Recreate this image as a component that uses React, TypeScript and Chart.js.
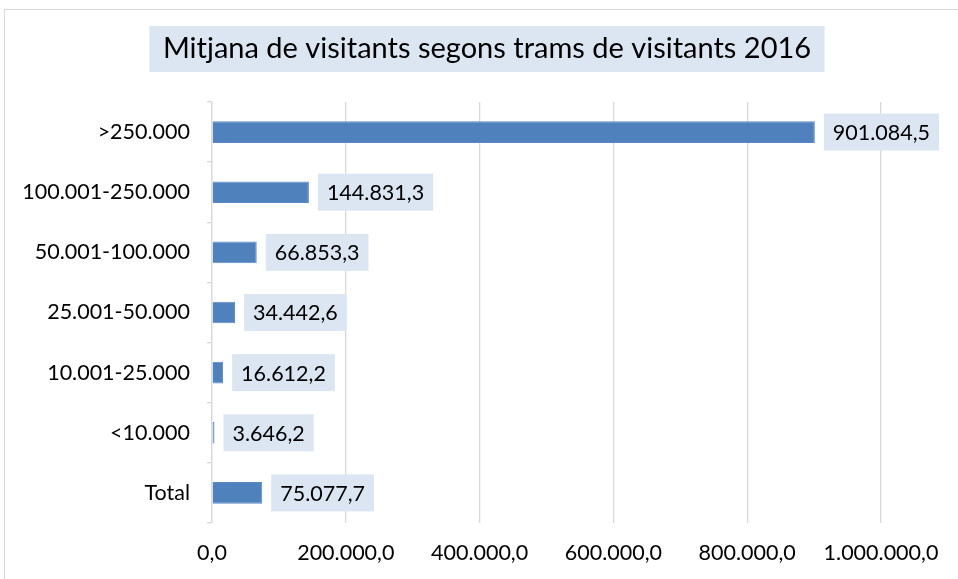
import { useEffect, useRef } from 'react';
import { Chart, registerables } from 'chart.js';

Chart.register(...registerables);

const categories = ['>250.000', '100.001-250.000', '50.001-100.000', '25.001-50.000', '10.001-25.000', '<10.000', 'Total'];
const values = [901084.5, 144831.3, 66853.3, 34442.6, 16612.2, 3646.2, 75077.7];
const xTickValues = [0, 200000, 400000, 600000, 800000, 1000000];
const titleText = 'Mitjana de visitants segons trams de visitants 2016';

const FONT = 'Lato';
const TICK_SIZE = 21.5;
const TITLE_SIZE = 29;
const BOX_BG = '#dce6f2';
const GRID = '#d9d9d9';
const BAR = '#4f81bd';

function fmt(v: number): string {
  const fixed = v.toFixed(1);
  const [i, d] = fixed.split('.');
  return i.replace(/\B(?=(\d{3})+(?!\d))/g, '.') + ',' + d;
}

const decorPlugin = {
  id: 'decor',
  beforeDraw(chart: any) {
    const ctx = chart.ctx;
    ctx.save();
    ctx.fillStyle = '#ffffff';
    ctx.fillRect(0, 0, chart.width, chart.height);
    ctx.strokeStyle = GRID;
    ctx.lineWidth = 1;
    ctx.strokeRect(4.5, 9.5, chart.width + 20, chart.height + 20);
    // title
    ctx.font = `${TITLE_SIZE}px ${FONT}`;
    const tw = ctx.measureText(titleText).width;
    const cx = 487;
    const bw = tw + 27;
    ctx.fillStyle = BOX_BG;
    ctx.fillRect(cx - bw / 2, 26, bw, 46);
    ctx.fillStyle = '#000000';
    ctx.textAlign = 'center';
    ctx.textBaseline = 'middle';
    ctx.fillText(titleText, cx, 49);
    ctx.restore();
  },
  afterDatasetsDraw(chart: any) {
    const ctx = chart.ctx;
    const meta = chart.getDatasetMeta(0);
    ctx.save();
    ctx.font = `${TICK_SIZE}px ${FONT}`;
    ctx.textBaseline = 'middle';
    ctx.textAlign = 'left';
    meta.data.forEach((bar: any, idx: number) => {
      const label = fmt(values[idx]);
      const w = ctx.measureText(label).width;
      const x0 = bar.x + 9;
      const h = 37;
      ctx.fillStyle = BOX_BG;
      ctx.fillRect(x0, bar.y - h / 2, w + 18, h);
      ctx.fillStyle = '#000000';
      ctx.fillText(label, x0 + 9, bar.y + 1);
    });
    ctx.restore();
  },
};

export default function App() {
  const ref = useRef<HTMLCanvasElement>(null);
  useEffect(() => {
    const chart = new Chart(ref.current!, {
      type: 'bar',
      data: {
        labels: categories,
        datasets: [
          {
            data: values,
            backgroundColor: BAR,
            borderColor: '#5a8ac6',
            borderWidth: 1,
            categoryPercentage: 1,
            barPercentage: 0.36,
          },
        ],
      },
      options: {
        indexAxis: 'y',
        animation: false,
        responsive: false,
        devicePixelRatio: 1,
        layout: { padding: { left: 0, top: 102, right: 77, bottom: 0 } },
        plugins: {
          legend: { display: false },
          title: { display: false },
          tooltip: { enabled: false },
        },
        scales: {
          x: {
            min: 0,
            max: 1000000,
            afterBuildTicks(scale: any) {
              scale.ticks = xTickValues.map((v) => ({ value: v }));
            },
            afterFit(scale: any) {
              scale.height = 56;
            },
            grid: { color: GRID, drawTicks: false, lineWidth: 1.3 },
            border: { display: false },
            ticks: {
              padding: 17,
              color: '#000000',
              font: { family: FONT, size: TICK_SIZE },
              callback: (v: any) => fmt(Number(v)),
              maxRotation: 0,
            },
          },
          y: {
            afterFit(scale: any) {
              scale.width = 212;
            },
            grid: { drawOnChartArea: false, drawTicks: true, tickLength: 5, color: GRID, offset: true, lineWidth: 1.3 },
            border: { display: true, color: GRID, width: 1.3 },
            ticks: {
              padding: 17,
              color: '#000000',
              font: { family: FONT, size: TICK_SIZE },
            },
          },
        },
      },
      plugins: [decorPlugin],
    });
    return () => chart.destroy();
  }, []);
  return (
    <div style={{ position: 'absolute', left: 0, top: 0, width: 958, height: 579 }}>
      <canvas ref={ref} width={958} height={579} />
    </div>
  );
}
